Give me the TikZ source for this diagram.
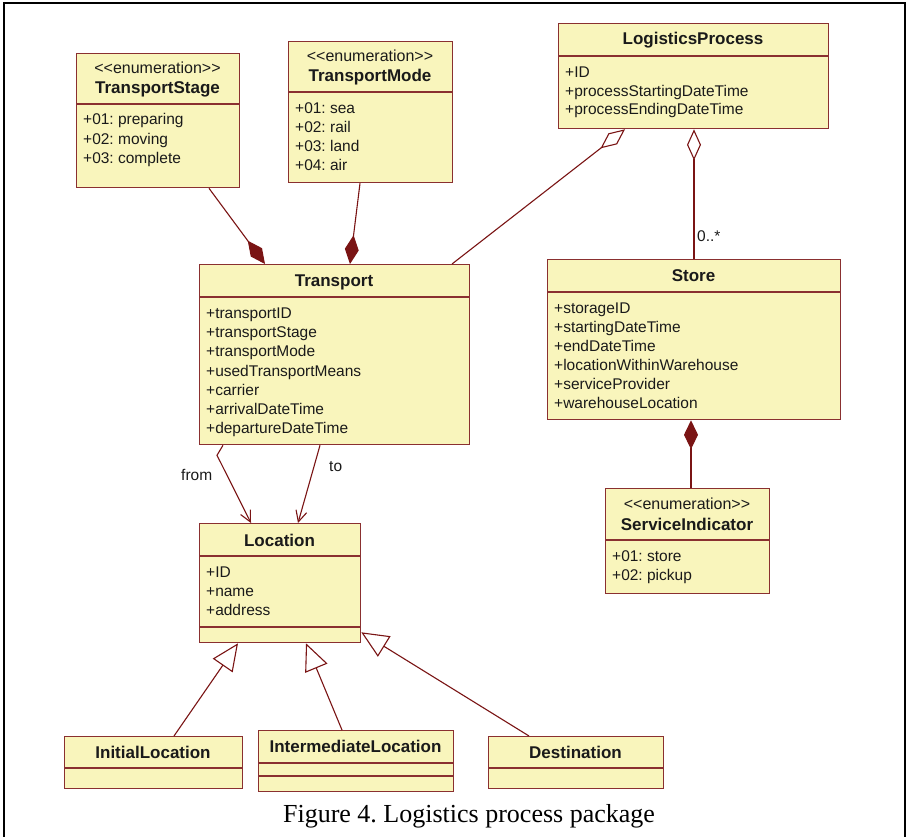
\documentclass[tikz,border=0pt]{standalone}
\usepackage{fontspec}
\setmainfont{Liberation Sans}
\newfontfamily\capfont{Liberation Serif}
\usetikzlibrary{arrows.meta}
\definecolor{boxfill}{HTML}{F9F5BC}
\definecolor{boxline}{HTML}{8A3030}
\definecolor{dred}{HTML}{7A1414}
\definecolor{txt}{HTML}{1A1A1A}
\newcommand\enumst{<{}<enumeration>{}>}
\frenchspacing
\begin{document}
\begin{tikzpicture}[x=1pt,y=-1pt,
  cls/.style={draw=boxline, fill=boxfill, line width=1.3pt, inner sep=0pt, anchor=north west},
  divl/.style={draw=boxline, line width=1.3pt},
  attr/.style={anchor=base west, inner sep=0pt, font=\fontsize{15.5}{18}\selectfont, text=txt},
  cname/.style={anchor=base, inner sep=0pt, font=\fontsize{17}{20}\selectfont\bfseries, text=txt},
  stereo/.style={anchor=base, inner sep=0pt, font=\fontsize{16}{19}\selectfont, text=txt},
  conn/.style={draw=dred, line width=1.1pt},
  compo/.style={conn, -{Diamond[length=29pt,width=14pt,fill=dred]}},
  aggr/.style={conn, -{Diamond[length=31pt,width=14pt,fill=white]}},
  navi/.style={conn, -{Straight Barb[length=11pt,width=11pt]}},
  gener/.style={conn, -{Triangle[length=27pt,width=24pt,fill=white]}},
]
\useasboundingbox (0,0) rectangle (908,837);
\fill[white] (0,0) rectangle (908,837);
% frame
\draw[line width=2pt] (4,837) -- (4,3) -- (905,3) -- (905,837);

% ---- TransportStage
\node[cls, minimum width=163pt, minimum height=134pt] (ts) at (76,53) {};
\draw[divl] (ts.west |- 0,104) -- (ts.east |- 0,104);
\node[stereo] (ts-s) at (157.5,74) {\enumst};
\node[cname] (ts-n) at (157.5,94) {TransportStage};
\node[attr] (ts-1) at (83,125) {+01: preparing};
\node[attr] (ts-2) at (83,144.5) {+02: moving};
\node[attr] (ts-3) at (83,164) {+03: complete};

% ---- TransportMode
\node[cls, minimum width=164pt, minimum height=141pt] (tm) at (288,41) {};
\draw[divl] (tm.west |- 0,92) -- (tm.east |- 0,92);
\node[stereo] (tm-s) at (370,62) {\enumst};
\node[cname] (tm-n) at (370,82) {TransportMode};
\node[attr] (tm-1) at (295,114) {+01: sea};
\node[attr] (tm-2) at (295,133) {+02: rail};
\node[attr] (tm-3) at (295,152) {+03: land};
\node[attr] (tm-4) at (295,171) {+04: air};

% ---- LogisticsProcess
\node[cls, minimum width=270pt, minimum height=105pt] (lp) at (558,23) {};
\draw[divl] (lp.west |- 0,56) -- (lp.east |- 0,56);
\node[cname] (lp-n) at (693,45) {LogisticsProcess};
\node[attr] (lp-1) at (565,77.5) {+ID};
\node[attr] (lp-2) at (565,96.5) {+processStartingDateTime};
\node[attr] (lp-3) at (565,115) {+processEndingDateTime};

% ---- Transport
\node[cls, minimum width=270pt, minimum height=180pt] (tr) at (199,264) {};
\draw[divl] (tr.west |- 0,297) -- (tr.east |- 0,297);
\node[cname] (tr-n) at (334,287) {Transport};
\node[attr] (tr-1) at (206,318.5) {+transportID};
\node[attr] (tr-2) at (206,337.7) {+transportStage};
\node[attr] (tr-3) at (206,356.9) {+transportMode};
\node[attr] (tr-4) at (206,376.1) {+usedTransportMeans};
\node[attr] (tr-5) at (206,395.3) {+carrier};
\node[attr] (tr-6) at (206,414.5) {+arrivalDateTime};
\node[attr] (tr-7) at (206,433.7) {+departureDateTime};

% ---- Store
\node[cls, minimum width=293pt, minimum height=160pt] (st) at (547,259) {};
\draw[divl] (st.west |- 0,292) -- (st.east |- 0,292);
\node[cname] (st-n) at (693.5,281) {Store};
\node[attr] (st-1) at (554,313.5) {+storageID};
\node[attr] (st-2) at (554,332.5) {+startingDateTime};
\node[attr] (st-3) at (554,351.5) {+endDateTime};
\node[attr] (st-4) at (554,370.5) {+locationWithinWarehouse};
\node[attr] (st-5) at (554,389.5) {+serviceProvider};
\node[attr] (st-6) at (554,408.5) {+warehouseLocation};

% ---- ServiceIndicator
\node[cls, minimum width=164pt, minimum height=105pt] (si) at (605,488) {};
\draw[divl] (si.west |- 0,540) -- (si.east |- 0,540);
\node[stereo] (si-s) at (687,509.5) {\enumst};
\node[cname] (si-n) at (687,530) {ServiceIndicator};
\node[attr] (si-1) at (612,561.5) {+01: store};
\node[attr] (si-2) at (612,580.5) {+02: pickup};

% ---- Location
\node[cls, minimum width=161pt, minimum height=119pt] (loc) at (199,523) {};
\draw[divl] (loc.west |- 0,556) -- (loc.east |- 0,556);
\draw[divl] (loc.west |- 0,627) -- (loc.east |- 0,627);
\node[cname] (loc-n) at (279.5,546) {Location};
\node[attr] (loc-1) at (206,577.5) {+ID};
\node[attr] (loc-2) at (206,596.5) {+name};
\node[attr] (loc-3) at (206,615.5) {+address};

% ---- InitialLocation
\node[cls, minimum width=178pt, minimum height=52pt] (il) at (64,736) {};
\draw[divl] (il.west |- 0,768) -- (il.east |- 0,768);
\node[cname] (il-n) at (153,758) {InitialLocation};

% ---- IntermediateLocation
\node[cls, minimum width=195pt, minimum height=61pt] (im) at (258,730) {};
\draw[divl] (im.west |- 0,763) -- (im.east |- 0,763);
\draw[divl] (im.west |- 0,776) -- (im.east |- 0,776);
\node[cname] (im-n) at (355.5,752) {IntermediateLocation};

% ---- Destination
\node[cls, minimum width=175pt, minimum height=52pt] (de) at (488,736) {};
\draw[divl] (de.west |- 0,768) -- (de.east |- 0,768);
\node[cname] (de-n) at (575.5,758) {Destination};

% ---- connectors
\draw[compo] ([xshift=133pt]ts.south west) -- ([xshift=66pt]tr.north west);
\draw[compo] ([xshift=72pt]tm.south west) -- ([xshift=151pt]tr.north west);
\draw[aggr] ([xshift=253pt]tr.north west) -- ([xshift=67pt]lp.south west);
\draw[aggr] ([xshift=147pt]st.north west) -- ([xshift=136pt]lp.south west);
\node[attr] (mult) at (697,242) {0..*};
\draw[compo] ([xshift=86pt]si.north west) -- ([xshift=144pt]st.south west);

\draw[navi] ([xshift=24pt]tr.south west) -- ++(-6,10) -- ([xshift=52pt]loc.north west);
\draw[navi] ([xshift=121pt]tr.south west) -- ([xshift=99pt]loc.north west);
\node[attr] (from) at (181,480) {from};
\node[attr] (to) at (329,471) {to};

\draw[gener] ([xshift=110pt]il.north west) -- ([xshift=39pt]loc.south west);
\draw[gener] ([xshift=84pt]im.north west) -- ([xshift=107pt]loc.south west);
\draw[gener] ([xshift=41pt]de.north west) -- ([yshift=11pt]loc.south east);

% ---- caption
\node[anchor=base, inner sep=0pt, font=\capfont\fontsize{26}{30}\selectfont] (cap) at (469,822) {Figure 4. Logistics process package};
\end{tikzpicture}
\end{document}
